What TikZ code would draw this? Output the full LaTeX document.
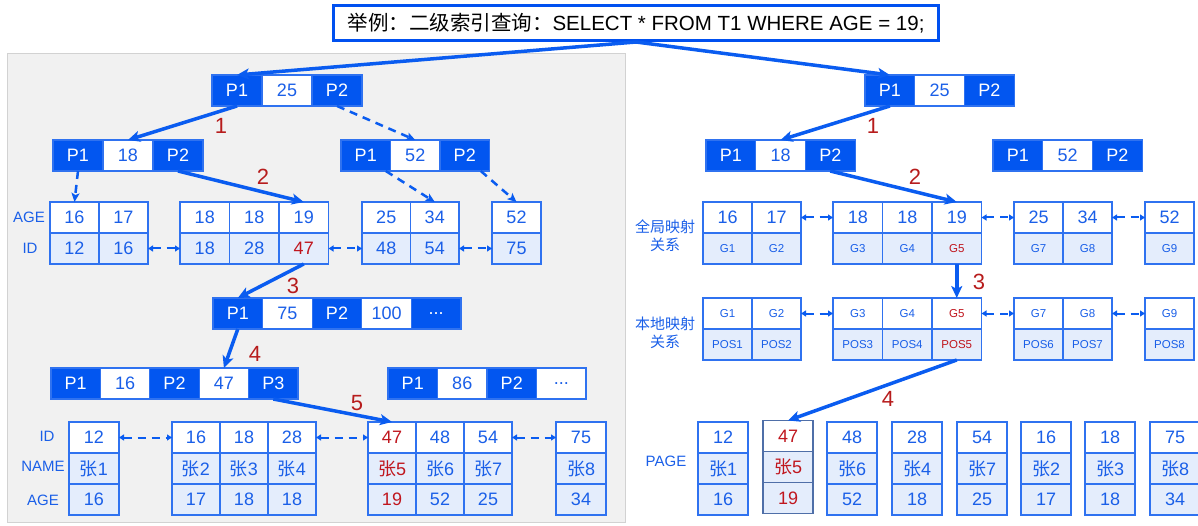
\documentclass[tikz,border=0pt]{standalone}
\usepackage{fontspec}
\setmainfont{Liberation Sans}
\newfontfamily\cjk{Noto Sans CJK SC}
\usetikzlibrary{arrows.meta}

\definecolor{pblue}{HTML}{0256F0}
\definecolor{cellline}{HTML}{2F72F0}
\definecolor{txtblue}{HTML}{1A5FE8}
\definecolor{lightblue}{HTML}{E4EDFC}
\definecolor{stepred}{HTML}{B71C1C}
\definecolor{hlred}{HTML}{C0161E}
\definecolor{arrowblue}{HTML}{0A5CF0}
\definecolor{titleblue}{HTML}{0050F0}
\definecolor{panelgray}{HTML}{F1F1F1}
\definecolor{panelline}{HTML}{D2D2D2}
\definecolor{greyblue}{HTML}{4F6FA8}

\newcommand{\redtxt}[1]{\textcolor{hlred}{#1}}
\newcommand{\zhtxt}[1]{{\cjk #1}}

\tikzset{
  cell/.style={draw=cellline, line width=1.2pt, inner sep=0pt, outer sep=0pt,
    minimum height=31pt, text=txtblue, font=\fontsize{18}{20}\selectfont},
  pcell/.style={cell, fill=pblue, text=white},
  kcell/.style={cell, fill=white},
  wcell/.style={cell, fill=white},
  lcell/.style={cell, fill=lightblue},
  smalltxt/.style={font=\fontsize{11.5}{13}\selectfont},
  steplabel/.style={text=stepred, font=\fontsize{22}{24}\selectfont},
  rowlabel/.style={text=txtblue, font=\fontsize{15}{18}\selectfont},
  cjklabel/.style={text=txtblue, font=\cjk\fontsize{15}{18}\selectfont, align=center},
  titlebox/.style={draw=titleblue, line width=3pt, fill=white, inner sep=0pt,
    minimum width=605pt, minimum height=35pt, font=\fontsize{20.5}{22}\selectfont},
  steparrow/.style={draw=arrowblue, line width=3.5pt,
    -{Stealth[length=12pt,width=11pt,inset=3pt]}},
  ptrarrow/.style={draw=arrowblue, line width=2.5pt, dash pattern=on 8pt off 6pt,
    -{Stealth[length=9pt,width=8pt,inset=2pt]}},
  linkarrow/.style={draw=arrowblue, line width=2pt, dash pattern=on 8pt off 6pt,
    {Triangle[length=5pt,width=6pt]}-{Triangle[length=5pt,width=6pt]}}
}

% name, left, top, cell width, cells
\newcommand{\bnode}[5]{%
  \foreach \t [count=\i] in {#5} {%
    \ifodd\i\relax
      \node[pcell, minimum width=#4pt] (#1-\i) at ({#2+(\i-0.5)*#4},{#3+15.5}) {\t};
    \else
      \node[kcell, minimum width=#4pt] (#1-\i) at ({#2+(\i-0.5)*#4},{#3+15.5}) {\t};
    \fi
  }%
}
% name, left, top, cell width, top style, bottom style, cells
\newcommand{\twinblk}[7]{%
  \foreach \a/\b [count=\i] in {#7} {%
    \node[wcell, minimum width=#4pt, #5] (#1-a\i) at ({#2+(\i-0.5)*#4},{#3+15.5}) {\a};
    \node[lcell, minimum width=#4pt, #6] (#1-b\i) at ({#2+(\i-0.5)*#4},{#3+46.5}) {\b};
  }%
}
% [style], name, left, top, cell width, cells
\newcommand{\recblk}[6][]{%
  \foreach \a/\b/\c [count=\i] in {#6} {%
    \node[wcell, minimum width=#5pt, #1] (#2-a\i) at ({#3+(\i-0.5)*#5},{#4+15.5}) {\a};
    \node[lcell, minimum width=#5pt, #1] (#2-b\i) at ({#3+(\i-0.5)*#5},{#4+46.5}) {\b};
    \node[lcell, minimum width=#5pt, #1] (#2-c\i) at ({#3+(\i-0.5)*#5},{#4+77.5}) {\c};
  }%
}

\begin{document}
\begin{tikzpicture}[x=1pt, y=-1pt]
\useasboundingbox (0,0) rectangle (1198,526);
\fill[panelgray, draw=panelline] (7,53) rectangle (625,522);

\node[titlebox] (title) at (636,23) {\zhtxt{举例：二级索引查询：}SELECT * FROM T1 WHERE AGE = 19;};

% secondary index, clustered index
\bnode{lroot}{212}{75}{50}{P1,25,P2}
\bnode{la}{53}{140}{50}{P1,18,P2}
\bnode{lb}{341}{140}{49.5}{P1,52,P2}
\twinblk{lf1}{50}{202}{49}{}{}{16/12,17/16}
\twinblk{lf2}{180}{202}{49.5}{}{}{18/18,18/28,19/\redtxt{47}}
\twinblk{lf3}{362}{202}{48.5}{}{}{25/48,34/54}
\twinblk{lf4}{492}{202}{49}{}{}{52/75}
\bnode{mid}{213}{298}{49.6}{P1,75,P2,100,.{}.{}.}
\bnode{lo1}{51}{368}{49.4}{P1,16,P2,47,P3}
\bnode{lo2}{388}{368}{49.5}{P1,86,P2,.{}.{}.}
\recblk{rec1}{69}{422}{50}{12/\zhtxt{张}1/16}
\recblk{rec2}{172}{422}{48}{16/\zhtxt{张}2/17,18/\zhtxt{张}3/18,28/\zhtxt{张}4/18}
\recblk{rec3}{368}{422}{48}{\redtxt{47}/\redtxt{\zhtxt{张}5}/\redtxt{19},48/\zhtxt{张}6/52,54/\zhtxt{张}7/25}
\recblk{rec4}{556}{422}{50}{75/\zhtxt{张}8/34}

\node[rowlabel] (agea) at (29,217) {AGE};
\node[rowlabel] (ida) at (30,248) {ID};
\node[rowlabel] (idb) at (47,436) {ID};
\node[rowlabel] (name) at (43,466) {NAME};
\node[rowlabel] (ageb) at (43,500) {AGE};

% global / local mapping
\bnode{rroot}{865}{75}{49.7}{P1,25,P2}
\bnode{ra}{706}{140}{49.7}{P1,18,P2}
\bnode{rb}{993}{140}{49.7}{P1,52,P2}
\twinblk{g1}{703}{202}{49}{}{smalltxt}{16/G1,17/G2}
\twinblk{g2}{833}{202}{49.5}{}{smalltxt}{18/G3,18/G4,19/\redtxt{G5}}
\twinblk{g3}{1014}{202}{49}{}{smalltxt}{25/G7,34/G8}
\twinblk{g4}{1145}{202}{49}{}{smalltxt}{52/G9}
\twinblk{m1}{703}{298}{49}{smalltxt}{smalltxt}{G1/POS1,G2/POS2}
\twinblk{m2}{833}{298}{49.5}{smalltxt}{smalltxt}{G3/POS3,G4/POS4,\redtxt{G5}/\redtxt{POS5}}
\twinblk{m3}{1014}{298}{49}{smalltxt}{smalltxt}{G7/POS6,G8/POS7}
\twinblk{m4}{1145}{298}{49}{smalltxt}{smalltxt}{G9/POS8}
\recblk{pg1}{698}{422}{50}{12/\zhtxt{张}1/16}
\recblk[draw=greyblue]{pg2}{763}{420.5}{50}{\redtxt{47}/\redtxt{\zhtxt{张}5}/\redtxt{19}}
\recblk{pg3}{827}{422}{50}{48/\zhtxt{张}6/52}
\recblk{pg4}{892}{422}{50}{28/\zhtxt{张}4/18}
\recblk{pg5}{957}{422}{50}{54/\zhtxt{张}7/25}
\recblk{pg6}{1021}{422}{50}{16/\zhtxt{张}2/17}
\recblk{pg7}{1085}{422}{50}{18/\zhtxt{张}3/18}
\recblk{pg8}{1150}{422}{50}{75/\zhtxt{张}8/34}

\node[cjklabel] (gmap) at (665,236) {全局映射\\关系};
\node[cjklabel] (lmap) at (665,333) {本地映射\\关系};
\node[rowlabel] (page) at (666,461) {PAGE};

\draw[steparrow] (title.south) -- (lroot-1.north);
\draw[steparrow] (title.south) -- (rroot-1.north);

\draw[steparrow] (lroot-1.south) -- (la-2.north);
\draw[ptrarrow] (lroot-3.south) -- (lb-2.north);
\draw[steparrow] (la-3.south) -- (lf2-a3.north);
\draw[ptrarrow] (la-1.south) -- (lf1-a1.north);
\draw[ptrarrow] ([xshift=20pt]lb-1.south) -- (lf3-a2.north);
\draw[ptrarrow] ([xshift=16pt]lb-3.south) -- (lf4-a1.north);
\draw[linkarrow] (lf1-b2.east) -- (lf2-b1.west);
\draw[linkarrow] (lf2-b3.east) -- (lf3-b1.west);
\draw[linkarrow] (lf3-b2.east) -- (lf4-b1.west);
\draw[steparrow] (lf2-b3.south) -- (mid-1.north);
\draw[steparrow] (mid-1.south) -- (lo1-4.north);
\draw[steparrow] (lo1-5.south) -- (rec3-a1.north);
\draw[linkarrow] (rec1-a1.east) -- (rec2-a1.west);
\draw[linkarrow] (rec2-a3.east) -- (rec3-a1.west);
\draw[linkarrow] (rec3-a3.east) -- (rec4-a1.west);

\draw[steparrow] (rroot-1.south) -- (ra-2.north);
\draw[steparrow] (ra-3.south) -- (g2-a3.north);
\draw[linkarrow] (g1-a2.east) -- (g2-a1.west);
\draw[linkarrow] (g2-a3.east) -- (g3-a1.west);
\draw[linkarrow] (g3-a2.east) -- (g4-a1.west);
\draw[steparrow] (g2-b3.south) -- (m2-a3.north);
\draw[linkarrow] (m1-a2.east) -- (m2-a1.west);
\draw[linkarrow] (m2-a3.east) -- (m3-a1.west);
\draw[linkarrow] (m3-a2.east) -- (m4-a1.west);
\draw[steparrow] (m2-b3.south) -- (pg2-a1.north);

\node[steplabel] (s1a) at (221,126) {1};
\node[steplabel] (s2a) at (263,177) {2};
\node[steplabel] (s3a) at (293,286) {3};
\node[steplabel] (s4a) at (255,354) {4};
\node[steplabel] (s5a) at (357,403) {5};
\node[steplabel] (s1b) at (873,126) {1};
\node[steplabel] (s2b) at (915,177) {2};
\node[steplabel] (s3b) at (979,282) {3};
\node[steplabel] (s4b) at (888,399) {4};
\end{tikzpicture}
\end{document}
